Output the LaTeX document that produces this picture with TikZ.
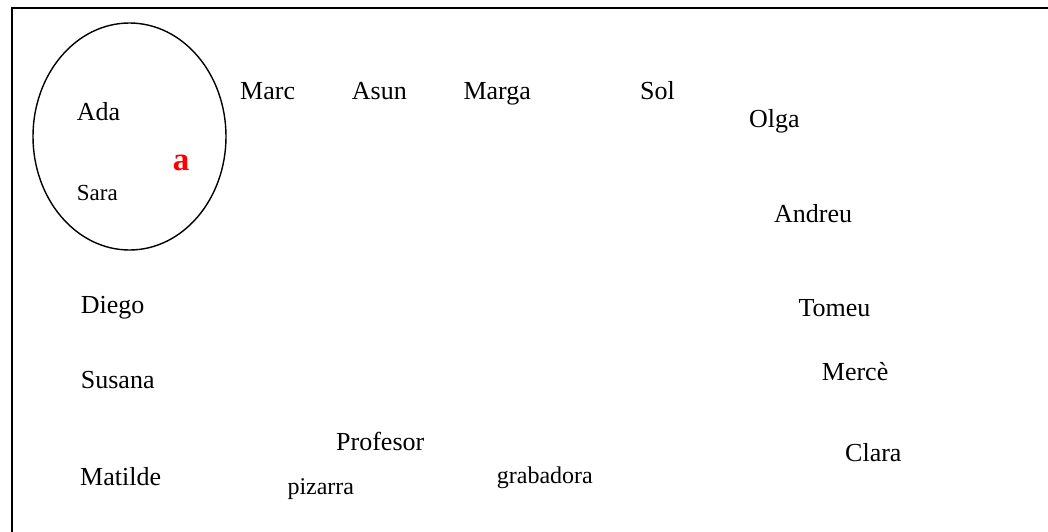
\documentclass[tikz,border=0pt]{standalone}
\usepackage{fontspec}
\setmainfont{Liberation Serif}
\usetikzlibrary{shapes.geometric}
\begin{document}
\begin{tikzpicture}[x=1pt,y=-1pt,
  person/.style={anchor=base west,inner sep=0pt,font=\fontsize{26}{30}\selectfont},
  small/.style={anchor=base west,inner sep=0pt,font=\fontsize{23}{27}\selectfont},
  thing/.style={anchor=base west,inner sep=0pt,font=\fontsize{24}{28}\selectfont},
  tag/.style={anchor=base west,inner sep=0pt,text=red,font=\fontsize{33}{38}\selectfont\bfseries}]
  \useasboundingbox (0,0) rectangle (1048,531);
  \clip (0,0) rectangle (1048,531);
  % classroom frame
  \draw[line width=2pt] (12,7.5) rectangle (1070,560);
  % group a
  \node[draw,ellipse,line width=1.4pt,minimum width=193pt,minimum height=227pt,inner sep=0pt] (grupo) at (129.5,136.5) {};
  \node[person] (ada) at (76.7,120.7) {Ada};
  \node[small] (sara) at (76.7,200) {Sara};
  \node[tag] (a) at (172.7,170) {a};
  % front row
  \node[person] (marc) at (240,99.3) {Marc};
  \node[person] (asun) at (351.7,99.3) {Asun};
  \node[person] (marga) at (463.3,99.3) {Marga};
  \node[person] (sol) at (640,99.3) {Sol};
  % right side
  \node[person] (olga) at (749,127) {Olga};
  \node[person] (andreu) at (774,222.5) {Andreu};
  \node[person] (tomeu) at (798.3,316.7) {Tomeu};
  \node[person] (merce) at (821.7,380.7) {Mercè};
  \node[person] (clara) at (845,461) {Clara};
  % left side
  \node[person] (diego) at (80.7,313.3) {Diego};
  \node[person] (susana) at (80.7,388.3) {Susana};
  \node[person] (matilde) at (80,485) {Matilde};
  % teacher and equipment
  \node[person] (profesor) at (336,450) {Profesor};
  \node[thing] (pizarra) at (287.3,494) {pizarra};
  \node[thing] (grabadora) at (496.7,483.3) {grabadora};
\end{tikzpicture}
\end{document}
